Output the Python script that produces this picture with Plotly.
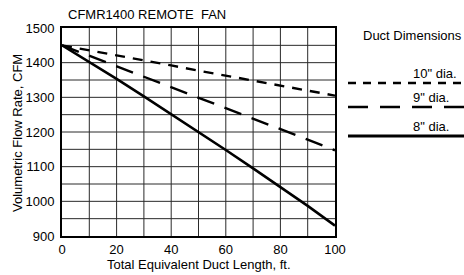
import plotly.graph_objects as go

# Data
duct_length = [0, 10, 20, 30, 40, 50, 60, 70, 80, 90, 100]
cfm_10in = [1450, 1436, 1421, 1406, 1392, 1377, 1363, 1348, 1334, 1319, 1305]
cfm_9in = [1450, 1420, 1390, 1359, 1329, 1299, 1268, 1238, 1208, 1178, 1147]
cfm_8in = [1450, 1402, 1353, 1303, 1252, 1200, 1148, 1095, 1042, 987, 930]

series_names = ['10" dia.', '9" dia.', '8" dia.']
x_range = [0, 100]
y_range = [900, 1500]
x_grid_step = 10
y_grid_step = 50

FONT = "Liberation Sans, Arial, sans-serif"
W, H = 464, 275
L, R, T, B = 62, 129, 28, 39
pw, ph = W - L - R, H - T - B

def px_x(p):
    return (p - L) / pw

def px_y(p):
    return (H - B - p) / ph

fig = go.Figure()

# Grid drawn as a line trace built from the axis ranges and steps
gx, gy = [], []
for v in range(x_range[0] + x_grid_step, x_range[1], x_grid_step):
    gx += [v, v, None]
    gy += [y_range[0], y_range[1], None]
for v in range(y_range[0] + y_grid_step, y_range[1], y_grid_step):
    gx += [x_range[0], x_range[1], None]
    gy += [v, v, None]
fig.add_trace(go.Scatter(x=gx, y=gy, mode="lines", line=dict(color="#2a2a2a", width=1),
                         hoverinfo="skip", showlegend=False, connectgaps=False))

styles = [
    dict(width=2.4, dash="10px,8px"),
    dict(width=2.4, dash="18px,11px"),
    dict(width=2.6, dash="solid"),
]
for name, ys, st in zip(series_names, [cfm_10in, cfm_9in, cfm_8in], styles):
    fig.add_trace(go.Scatter(x=duct_length, y=ys, mode="lines", name=name,
                             line=dict(color="black", **st), showlegend=False))

# Legend drawn on the right
legend_rows = [(83, "8px,7px", 2.4), (107, "20px,12px", 2.4), (136, "solid", 2.8)]
shapes = []
annotations = []
for (py, dash, w), name in zip(legend_rows, series_names):
    shapes.append(dict(type="line", xref="paper", yref="paper",
                       x0=px_x(348), x1=px_x(466), y0=px_y(py), y1=px_y(py),
                       line=dict(color="black", width=w, dash=dash)))
    annotations.append(dict(text=name, xref="paper", yref="paper",
                            x=px_x(411), y=px_y(py - 10), xanchor="left", yanchor="middle",
                            showarrow=False, font=dict(size=13, color="black", family=FONT)))
annotations.append(dict(text="Duct Dimensions", xref="paper", yref="paper",
                        x=px_x(361), y=px_y(35), xanchor="left", yanchor="middle",
                        showarrow=False, font=dict(size=13, color="black", family=FONT)))
annotations.append(dict(text="CFMR1400 REMOTE&nbsp;&nbsp;FAN", xref="paper", yref="paper",
                        x=px_x(66), y=px_y(14), xanchor="left", yanchor="middle",
                        showarrow=False, font=dict(size=13, color="black", family=FONT)))
annotations.append(dict(text="Total Equivalent Duct Length, ft.", xref="paper", yref="paper",
                        x=px_x(199), y=px_y(264), xanchor="center", yanchor="middle",
                        showarrow=False, font=dict(size=13, color="black", family=FONT)))
annotations.append(dict(text="Volumetric Flow Rate, CFM", xref="paper", yref="paper",
                        x=px_x(17), y=px_y(133), xanchor="center", yanchor="middle",
                        textangle=-90,
                        showarrow=False, font=dict(size=13, color="black", family=FONT)))

fig.update_layout(
    template="none",
    width=W, height=H,
    margin=dict(l=L, r=R, t=T, b=B),
    paper_bgcolor="white", plot_bgcolor="white",
    font=dict(family=FONT, size=13, color="black"),
    shapes=shapes, annotations=annotations,
    xaxis=dict(range=x_range, dtick=20, showgrid=False, zeroline=False,
               showline=True, linecolor="black", linewidth=2, mirror=True,
               ticklabelstandoff=0),
    yaxis=dict(range=y_range, dtick=100, showgrid=False, zeroline=False,
               showline=True, linecolor="black", linewidth=2, mirror=True,
               ticklabelstandoff=3),
)

fig.write_html("out.html", config={"displayModeBar": False},
               post_script="document.body.style.margin='0';")
